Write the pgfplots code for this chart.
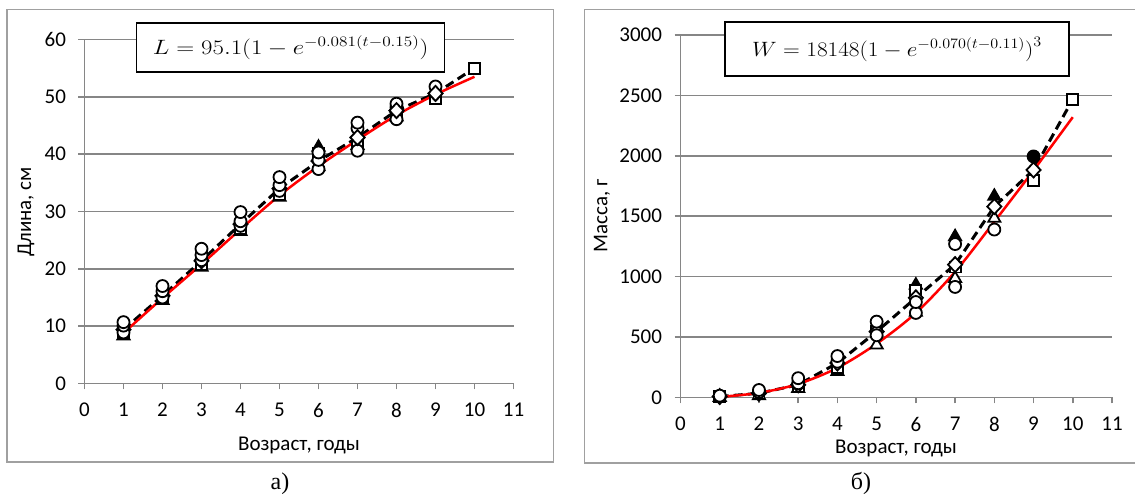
\documentclass[border=0pt]{standalone}
\usepackage[no-math]{fontspec}
\setmainfont{Carlito}
\newfontfamily\captionfont{Liberation Serif}
\usepackage{pgfplots}
\pgfplotsset{compat=1.18}

\definecolor{gridgray}{RGB}{134,134,134}
\definecolor{framegray}{RGB}{160,160,160}
\definecolor{fitred}{RGB}{255,0,0}

\pgfplotsset{
  growth/.style={
    scale only axis,
    axis lines=left,
    axis line style={-, gridgray, line width=1.5pt},
    xmin=0, xmax=11, xtick={0,...,11},
    ymajorgrids,
    grid style={gridgray, line width=1.5pt},
    tick align=outside,
    major tick length=6pt,
    tick style={gridgray, line width=1.5pt},
    tick label style={font=\fontsize{21}{22}\selectfont, black},
    /pgf/number format/assume math mode=true,
    /pgf/number format/1000 sep={},
    scaled y ticks=false,
    xticklabel style={yshift=-10pt},
    yticklabel style={xshift=-9pt},
    clip=false,
  },
  opencirc/.style={only marks, mark=*, mark size=6pt,
    mark options={fill=white, draw=black, line width=1.8pt, solid}},
  fillcirc/.style={only marks, mark=*, mark size=6pt,
    mark options={fill=black, draw=black, line width=1.8pt, solid}},
  opentri/.style={only marks, mark=triangle*, mark size=7pt,
    mark options={fill=white, draw=black, line width=1.8pt, solid}},
  filltri/.style={only marks, mark=triangle*, mark size=7pt,
    mark options={fill=black, draw=black, line width=1.8pt, solid}},
  opensq/.style={only marks, mark=square*, mark size=5.5pt,
    mark options={fill=white, draw=black, line width=1.8pt, solid}},
  diamondmk/.style={mark=diamond*, mark size=7.5pt,
    mark options={solid, fill=white, draw=black, line width=1.8pt, xscale=1.25}},
  meanline/.style={black, line width=3pt, dash pattern=on 9pt off 5pt,
    diamondmk, mark indices={1,...,9}},
  fitline/.style={fitred, line width=2.5pt, smooth, no marks},
}

\begin{document}
\begin{tikzpicture}[x=1pt, y=1pt]
\useasboundingbox (0,0) rectangle (1135,497);

% chart frames
\draw[framegray, line width=1.5pt] (7,35) rectangle (553.5,487.5);
\draw[framegray, line width=1.5pt] (1135,487.5) -- (584.5,487.5) -- (584.5,34) -- (1135,34);

% ---------- length at age ----------
\begin{axis}[growth, at={(84.5pt,113.5pt)}, anchor=south west,
  width=429pt, height=344pt, ymin=0, ymax=60, ytick={0,10,...,60}]
\addplot[filltri] coordinates {(6,41.2) (8,48.0)};
\addplot[opentri] coordinates {(1,8.3) (2,14.5) (3,20.3) (4,26.5) (5,32.5) (6,37.8) (7,41.5) (8,46.5)};
\addplot[opensq] coordinates {(1,8.8) (2,15.0) (3,20.8) (4,27.0) (5,33.0) (6,40.2) (7,42.0) (8,47.0) (9,49.7)};
\addplot[meanline] coordinates {(1,9.4) (2,15.3) (3,21.4) (4,27.8) (5,34.0) (6,38.8) (7,42.9) (8,47.6) (9,50.6) (10,55.0)};
\addplot[opencirc] coordinates {(1,8.9) (2,15.0) (3,21.5) (4,27.5) (5,33.6) (6,37.4) (7,40.6) (8,46.1)};
\addplot[opencirc] coordinates {(1,10.1) (2,16.1) (3,22.4) (4,28.3) (5,34.6) (6,39.0) (7,44.5) (8,48.2)};
\addplot[opencirc] coordinates {(1,10.7) (2,17.0) (3,23.5) (4,29.9) (5,36.0) (6,40.3) (7,45.5) (8,48.8) (9,51.8)};
% mean values of the older age groups stay in front of the individual points
\addplot[only marks, diamondmk] coordinates {(7,42.9) (8,47.6) (9,50.6)};
\addplot[opensq] coordinates {(10,55.0)};
\addplot[fitline] coordinates {(1,8.8) (2,14.9) (3,20.8) (4,26.9) (5,32.8) (6,37.9) (7,42.5) (8,46.8) (9,50.4) (10,53.5)};
\end{axis}

% ---------- weight at age ----------
\begin{axis}[growth, at={(680.5pt,99.5pt)}, anchor=south west,
  width=431.5pt, height=362.5pt, ymin=0, ymax=3000, ytick={0,500,...,3000}]
\addplot[filltri] coordinates {(6,930) (7,1330) (8,1665)};
\addplot[opentri] coordinates {(1,0) (2,15) (3,75) (4,215) (5,435) (6,705) (7,985) (8,1483)};
\addplot[opensq] coordinates {(1,5) (2,30) (3,95) (4,250) (5,545) (6,885) (7,1080) (9,1795)};
\addplot[fillcirc] coordinates {(9,1995)};
\addplot[meanline] coordinates {(1,8) (2,35) (3,105) (4,285) (5,545) (6,825) (7,1100) (8,1580) (9,1883) (10,2468)};
\addplot[opencirc] coordinates {(1,8) (2,45) (3,118) (4,296) (5,515) (6,700) (7,915)};
\addplot[opencirc] coordinates {(1,15) (2,62) (3,160) (4,343) (5,628) (6,790) (7,1270) (8,1390)};
\addplot[opensq] coordinates {(10,2468)};
\addplot[fitline] coordinates {(1,5) (2,38) (3,112) (4,245) (5,445) (6,700) (7,1040) (8,1455) (9,1880) (10,2320)};
\end{axis}

% axis titles
\begin{scope}[font=\fontsize{21}{22}\selectfont]
\node at (299,52) {Возраст, годы};
\node at (896,49) {Возраст, годы};
\node[rotate=90] at (26,285) {Длина, см};
\node[rotate=90] at (602,281) {Масса, г};
\end{scope}

% model equations
\node[draw=black, line width=1.5pt, fill=white, minimum width=308pt, minimum height=49pt,
  font=\fontsize{20}{22}\selectfont] at (290.6,449.5)
  {\scalebox{1.2}[1]{$L = 95.1\Bigl(1 - e^{-0.081(t-0.15)}\Bigr)$}};
\node[draw=black, line width=1.5pt, fill=white, minimum width=344pt, minimum height=54pt,
  font=\fontsize{20}{22}\selectfont] at (897,448)
  {\scalebox{1.12}[1]{$W = 18148\Bigl(1 - e^{-0.070(t-0.11)}\Bigr)^3$}};

% panel captions
\node[font=\captionfont\fontsize{24}{26}\selectfont] at (280,13) {а)};
\node[font=\captionfont\fontsize{24}{26}\selectfont] at (861,14) {б)};
\end{tikzpicture}
\end{document}
